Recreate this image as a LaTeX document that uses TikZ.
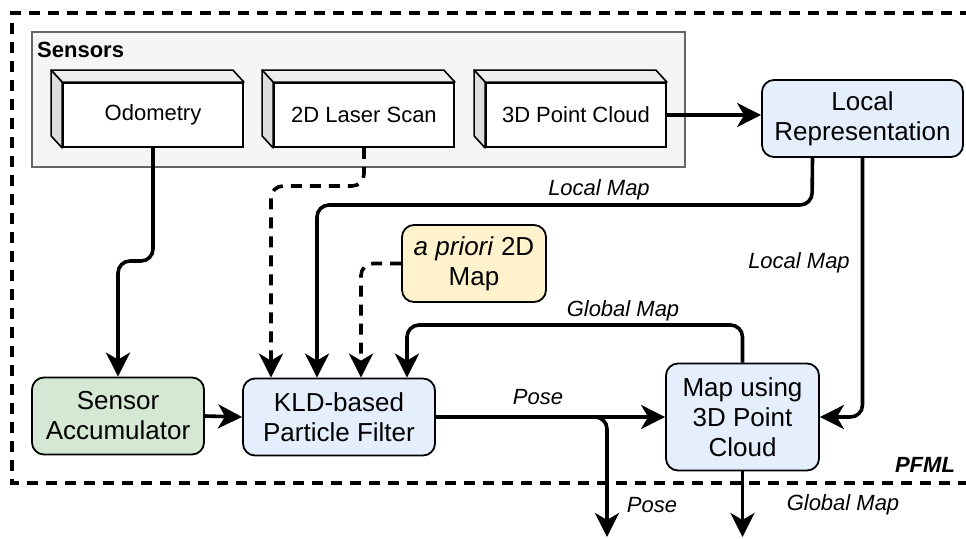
\documentclass[tikz,border=0pt]{standalone}
\usepackage{fontspec}
\setmainfont{Liberation Sans}
\usetikzlibrary{arrows.meta}
\definecolor{blueF}{HTML}{E5EEFD}
\definecolor{greenF}{HTML}{D5E8D4}
\definecolor{yellowF}{HTML}{FFF2CC}
\definecolor{grayF}{HTML}{F5F5F5}
\definecolor{grayS}{HTML}{666666}
\definecolor{topF}{HTML}{EEEEEE}
\definecolor{sideF}{HTML}{DDDDDD}
\tikzset{
  box/.style={draw=black, line width=1.8pt, rounded corners=12pt, align=center,
    font=\fontsize{26}{30}\selectfont, inner sep=0pt},
  sensor/.style={draw=black, line width=1.8pt, fill=white, minimum width=180pt,
    minimum height=64pt, inner sep=0pt, font=\fontsize{22}{26}\selectfont},
  conn/.style={line width=3.6pt, rounded corners=12pt,
    -{Stealth[length=24pt,width=24pt,inset=7pt]}},
  dconn/.style={conn, dash pattern=on 11pt off 8pt},
  lbl/.style={font=\fontsize{22}{26}\selectfont\itshape, inner sep=0pt},
  frame/.style={line width=3.4pt, dash pattern=on 11pt off 8pt},
}
\newcommand{\cuboid}[1]{%
  \filldraw[fill=topF, draw=black, line width=1.6pt, line join=round]
    (#1.north west) -- ++(-11,-12) -- ([xshift=-11pt,yshift=12pt]#1.north east) -- (#1.north east) -- cycle;
  \filldraw[fill=sideF, draw=black, line width=1.6pt, line join=round]
    (#1.north west) -- ++(-11,-12) -- ([xshift=-11pt,yshift=12pt]#1.south west) -- (#1.south west) -- cycle;
}
\begin{document}
\begin{tikzpicture}[x=1pt, y=-1pt]
\useasboundingbox (0,0) rectangle (966,538);
\clip (0,0) rectangle (966,538);

% outer frame
\draw[frame] (990,13) -- (12,13) -- (12,483) -- (990,483);
\node[font=\fontsize{22}{26}\selectfont\bfseries\itshape, inner sep=0pt] (pfml) at (925,465) {PFML};

% sensors container
\node[draw=grayS, fill=grayF, line width=1.8pt, minimum width=653pt, minimum height=135pt, inner sep=0pt] (sensors) at (358.5,99.5) {};
\node[font=\fontsize{22}{26}\selectfont\bfseries, anchor=west, inner sep=0pt] (senslbl) at (37,50) {Sensors};

\node[sensor] (odo) at (153,115) {Odometry};
\node[sensor] (laser) at (364,115) {2D Laser Scan};
\node[sensor] (cloud) at (576,115) {3D Point Cloud};
\cuboid{odo}
\cuboid{laser}
\cuboid{cloud}

% boxes
\node[box, fill=blueF, minimum width=201pt, minimum height=77pt] (lr) at (862.5,118.5) {Local\\Representation};
\node[box, fill=greenF, minimum width=172pt, minimum height=77pt] (sa) at (118,416) {Sensor\\Accumulator};
\node[box, fill=blueF, minimum width=192pt, minimum height=77pt] (kld) at (339,417) {KLD-based\\Particle Filter};
\node[box, fill=yellowF, minimum width=144pt, minimum height=77pt] (ap) at (474,263.5) {\textit{a priori} 2D\\Map};
\node[box, fill=blueF, minimum width=153pt, minimum height=107pt] (map) at (742.5,417) {Map using\\3D Point\\Cloud};

% coordinates
\coordinate (k1) at ([xshift=-68pt]kld.north);
\coordinate (k2) at ([xshift=-22pt]kld.north);
\coordinate (k3) at ([xshift=22pt]kld.north);
\coordinate (k4) at ([xshift=68pt]kld.north);
\coordinate (lr1) at ([xshift=-50pt]lr.south);
\coordinate (lr2) at ([xshift=0pt]lr.south);
\coordinate (poseout) at (607,537);
\coordinate (globout) at (742.5,537);

% connectors
\draw[conn] (odo.south) -- (153,261) -- (118,261) -- (sa.north);
\draw[dconn] (laser.south) -- (364,186) -- (271,186) -- (k1);
\draw[conn] (lr1) -- (812,205) -- (317,205) -- (k2);
\draw[dconn] (ap.west) -- (361,263.5) -- (k3);
\draw[conn] (map.north) -- (742.5,325) -- (407,325) -- (k4);
\draw[conn] (lr2) -- (862.5,417) -- (map.east);
\draw[conn] (cloud.east) -- (lr.west |- cloud.east);
\draw[conn] (sa.east) -- (kld.west);
\draw[conn] (kld.east) -- (map.west);
\draw[conn] (kld.east) -| (poseout);
\draw[conn] (map.south) -- (globout);

% labels
\node[lbl] (l1) at (599,190) {Local Map};
\node[lbl] (l2) at (799,263) {Local Map};
\node[lbl] (l3) at (623,311) {Global Map};
\node[lbl] (l4) at (538,397) {Pose};
\node[lbl] (l5) at (652,505) {Pose};
\node[lbl] (l6) at (843,505) {Global Map};
\end{tikzpicture}
\end{document}
